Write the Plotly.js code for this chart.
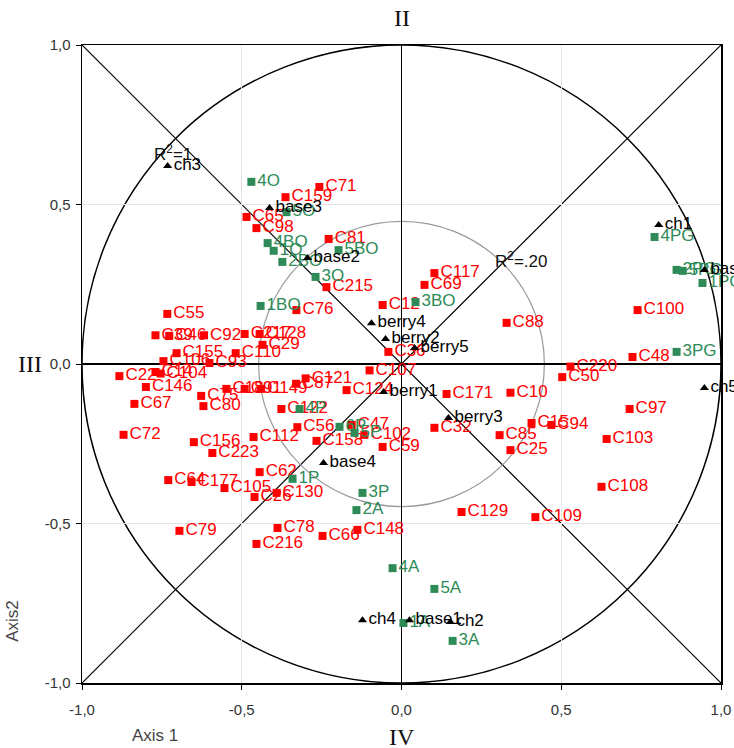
<!DOCTYPE html>
<html><head><meta charset="utf-8">
<script src="https://cdn.plot.ly/plotly-3.0.1.min.js"></script>
<style>html,body{margin:0;padding:0;background:#fff;}#chart{width:734px;height:748px;}</style>
</head><body><div id="chart"></div>
<script>
// Red items (C...)
const redLabels = ["C71","C159","C65","C98","C81","C215","C76","C12","C117","C69","C88","C36","C107","C124","C121","C87","C18","C91","C149","C110","C217","C128","C29","C39","C46","C92","C55","C155","C106","C93","C22","C14","C104","C146","C67","C72","C75","C80","C156","C112","C223","C64","C177","C105","C62","C26","C130","C78","C216","C66","C148","C79","C59","C102","C56","C158","C47","C122","C32","C171","C10","C220","C50","C15","C94","C85","C25","C129","C109","C108","C103","C97","C48","C100"];
const redX = [-0.257,-0.363,-0.485,-0.454,-0.228,-0.235,-0.329,-0.059,0.103,0.072,0.329,-0.041,-0.10,-0.172,-0.30,-0.33,-0.548,-0.491,-0.44,-0.519,-0.491,-0.444,-0.435,-0.770,-0.727,-0.618,-0.733,-0.704,-0.745,-0.601,-0.883,-0.77,-0.754,-0.80,-0.836,-0.87,-0.627,-0.62,-0.65,-0.463,-0.592,-0.73,-0.657,-0.554,-0.444,-0.46,-0.391,-0.388,-0.454,-0.247,-0.138,-0.695,-0.059,-0.116,-0.326,-0.266,-0.156,-0.376,0.103,0.141,0.341,0.529,0.503,0.407,0.469,0.307,0.341,0.188,0.419,0.626,0.642,0.714,0.723,0.739];
const redY = [0.555,0.523,0.461,0.426,0.392,0.241,0.169,0.185,0.285,0.248,0.129,0.038,-0.02,-0.082,-0.045,-0.062,-0.078,-0.078,-0.078,0.034,0.094,0.094,0.06,0.09,0.088,0.09,0.157,0.034,0.009,0.003,-0.038,-0.025,-0.03,-0.072,-0.125,-0.222,-0.1,-0.132,-0.245,-0.229,-0.279,-0.364,-0.37,-0.389,-0.339,-0.417,-0.404,-0.514,-0.564,-0.539,-0.52,-0.523,-0.26,-0.222,-0.198,-0.241,-0.191,-0.141,-0.2,-0.094,-0.09,-0.008,-0.041,-0.185,-0.191,-0.223,-0.27,-0.464,-0.48,-0.385,-0.235,-0.141,0.022,0.169];

// Green items
const greenLabels = ["4O","5O","4BO","1O","2BO","5BO","3O","1BO","3BO","4P","6P","5P","1P","3P","2A","4A","5A","1A","3A","4PG","2PG","5PG","1PG","3PG"];
const greenX = [-0.47,-0.36,-0.419,-0.40,-0.373,-0.197,-0.269,-0.441,0.044,-0.319,-0.194,-0.147,-0.341,-0.122,-0.141,-0.028,0.103,0.006,0.16,0.792,0.861,0.88,0.942,0.861];
const greenY = [0.571,0.476,0.379,0.355,0.320,0.357,0.273,0.182,0.194,-0.141,-0.197,-0.216,-0.36,-0.404,-0.458,-0.64,-0.705,-0.812,-0.868,0.398,0.295,0.292,0.254,0.038];

// Black items (triangles)
const blackLabels = ["ch3","base3","base2","berry4","berry2","berry5","berry1","berry3","base4","ch4","base1","ch2","ch1","base5","ch5"];
const blackX = [-0.732,-0.413,-0.294,-0.094,-0.05,0.041,-0.056,0.147,-0.244,-0.122,0.025,0.153,0.805,0.948,0.948];
const blackY = [0.621,0.489,0.332,0.128,0.078,0.05,-0.088,-0.169,-0.31,-0.803,-0.803,-0.809,0.436,0.295,-0.075];

// Axis ticks
const tickVals = [-1,-0.5,0,0.5,1];
const tickText = ["-1,0","-0,5","0,0","0,5","1,0"];
const innerR = Math.sqrt(0.2);

const labelFont = {family:"Liberation Sans, Arial, sans-serif", size:17};
function tr(lbls, xs, ys, color, symbol, size){
  return {x:xs, y:ys, text:lbls, type:"scatter", mode:"markers+text", textposition:"middle right",
    cliponaxis:false, hoverinfo:"skip",
    marker:{symbol:symbol, size:size, color:color, line:{width:0}},
    textfont:Object.assign({color:color}, labelFont)};
}
const data = [
  tr(redLabels, redX, redY, "#ff0000", "square", 8),
  tr(greenLabels, greenX, greenY, "#2e8b57", "square", 8),
  tr(blackLabels, blackX, blackY, "#000000", "triangle-up", 8)
];
const axisCommon = {range:[-1,1], tickvals:tickVals, ticktext:tickText, showgrid:true, gridcolor:"#e3e3e3", gridwidth:1,
  zeroline:true, zerolinecolor:"#000", zerolinewidth:1.5, showline:true, linecolor:"#000", linewidth:1.5, mirror:true,
  ticks:"outside", ticklen:5, tickcolor:"#000", fixedrange:true,
  tickfont:{family:"Liberation Sans, Arial, sans-serif", size:15, color:"#333"}};
const layout = {
  width:734, height:748, margin:{l:82, r:13, t:45, b:65},
  paper_bgcolor:"#fff", plot_bgcolor:"#fff", showlegend:false,
  xaxis:Object.assign({}, axisCommon, {ticklabelstandoff:7}),
  yaxis:Object.assign({}, axisCommon, {ticklabelstandoff:2}),
  shapes:[
    {type:"line", xref:"x", yref:"y", x0:-1, y0:1, x1:1, y1:-1, line:{color:"#000", width:1.2}, layer:"below"},
    {type:"line", xref:"x", yref:"y", x0:-1, y0:-1, x1:1, y1:1, line:{color:"#000", width:1.2}, layer:"below"},
    {type:"circle", xref:"x", yref:"y", x0:-1, y0:-1, x1:1, y1:1, line:{color:"#000", width:1.5}, layer:"below"},
    {type:"circle", xref:"x", yref:"y", x0:-innerR, y0:-innerR, x1:innerR, y1:innerR, line:{color:"#999", width:1.2}, layer:"below"}
  ],
  annotations:[
    {text:"R<sup>2</sup>=1", x:-0.715, y:0.66, xref:"x", yref:"y", xanchor:"center", yanchor:"middle", showarrow:false, font:{family:"Liberation Sans, Arial, sans-serif", size:17, color:"#111"}},
    {text:"R<sup>2</sup>=.20", x:0.373, y:0.325, xref:"x", yref:"y", xanchor:"center", yanchor:"middle", showarrow:false, font:{family:"Liberation Sans, Arial, sans-serif", size:17, color:"#111"}},
    {text:"II", x:0.5, y:1.042, xref:"paper", yref:"paper", xanchor:"center", yanchor:"middle", showarrow:false, font:{family:"Liberation Serif, Times New Roman, serif", size:24, color:"#111"}},
    {text:"IV", x:0.5, y:-0.084, xref:"paper", yref:"paper", xanchor:"center", yanchor:"middle", showarrow:false, font:{family:"Liberation Serif, Times New Roman, serif", size:24, color:"#111"}},
    {text:"III", x:-0.081, y:0.5, xref:"paper", yref:"paper", xanchor:"center", yanchor:"middle", showarrow:false, font:{family:"Liberation Serif, Times New Roman, serif", size:24, color:"#111"}},
    {text:"Axis 1", x:0.114, y:-0.082, xref:"paper", yref:"paper", xanchor:"center", yanchor:"middle", showarrow:false, font:{family:"Liberation Sans, Arial, sans-serif", size:17, color:"#444"}},
    {text:"Axis2", x:-0.11, y:0.097, xref:"paper", yref:"paper", xanchor:"center", yanchor:"middle", showarrow:false, textangle:-90, font:{family:"Liberation Sans, Arial, sans-serif", size:17, color:"#444"}}
  ]
};
Plotly.newPlot("chart", data, layout, {displayModeBar:false, staticPlot:true});
</script></body></html>
